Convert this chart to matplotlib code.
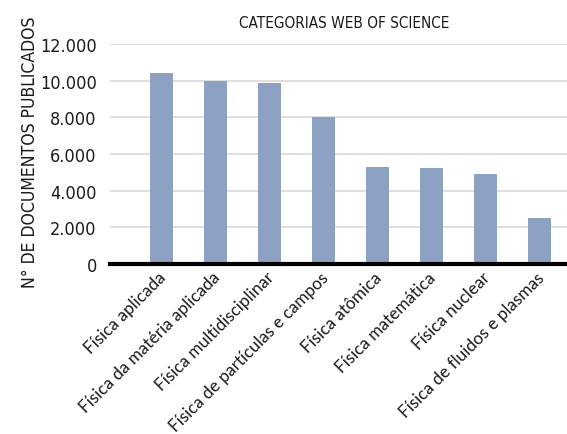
import matplotlib
matplotlib.use("Agg")
import matplotlib.pyplot as plt
from matplotlib import transforms

categories = ["Física aplicada", "Física da matéria aplicada", "Física multidisciplinar",
              "Física de partículas e campos", "Física atômica", "Física matemática",
              "Física nuclear", "Física de fluidos e plasmas"]
values = [10440, 10000, 9890, 8000, 5300, 5250, 4920, 2510]
yticks = [0, 2000, 4000, 6000, 8000, 10000, 12000]
ytick_labels = ["0", "2.000", "4.000", "6.000", "8.000", "10.000", "12.000"]

COND = dict(family=["DejaVu Sans"], fontstretch="condensed")
LBL = ["Lato", "DejaVu Sans"]
W, H = 567, 435
fig = plt.figure(figsize=(W / 100, H / 100), dpi=100)
ax = fig.add_axes([110 / W, 170 / H, 457 / W, 220 / H])

x = list(range(len(categories)))
ax.bar(x, values, width=0.426, color="#8DA2C2", zorder=2)
ax.set_xlim(-0.954, 7.509)
ax.set_ylim(0, 12000)
ax.set_yticks(yticks)
ax.set_yticklabels(ytick_labels, fontsize=13, color="#1a1a1a", **COND)
ax.tick_params(axis="y", length=0, pad=9.5)
ax.tick_params(axis="x", length=0, pad=4)
ax.set_xticks(x)
ax.set_xticklabels(categories, rotation=45, ha="right", va="center",
                   rotation_mode="anchor", family=LBL, fontsize=12.3, color="#1a1a1a")
for lbl in ax.get_xticklabels():
    lbl.set_transform(lbl.get_transform() + transforms.ScaledTranslation(2/100, -5/100, fig.dpi_scale_trans))
ax.grid(axis="y", color="#d9d9d9", lw=1.2, zorder=0)
ax.set_axisbelow(True)
for s in ax.spines.values():
    s.set_visible(False)
ax.axhline(0, color="black", lw=3, zorder=3, clip_on=False)

fig.text(344 / W, 1 - 23 / H, "CATEGORIAS WEB OF SCIENCE", fontsize=11,
         ha="center", va="center", color="#1a1a1a", **COND)
fig.text(30 / W, 1 - 152 / H, "N° DE DOCUMENTOS PUBLICADOS", fontsize=12.6,
         rotation=90, ha="center", va="center", color="#1a1a1a", **COND)

fig.savefig("out.png", dpi=100)
